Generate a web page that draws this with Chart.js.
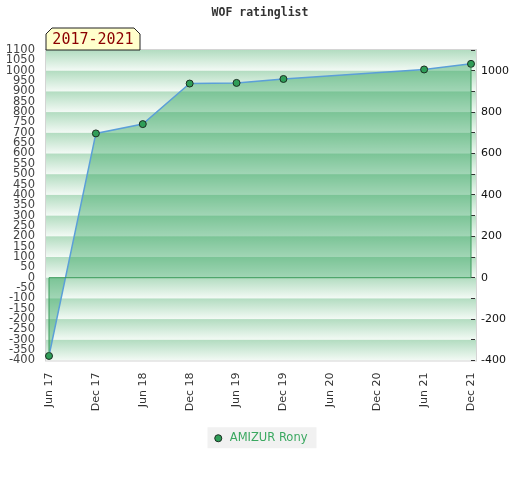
<!DOCTYPE html>
<html>
<head>
<meta charset="utf-8">
<script src="https://cdn.jsdelivr.net/npm/chart.js@4/dist/chart.umd.min.js"></script>
<style>
  html, body { margin: 0; padding: 0; background: #fff; }
  #wrap { width: 520px; height: 480px; position: relative; }
</style>
</head>
<body>
<div id="wrap"><canvas id="line-chart"></canvas></div>
<script>
// data
var periodes = ["Jun 17", "Dec 17", "Jun 18", "Dec 18", "Jun 19", "Dec 19", "Jun 20", "Dec 20", "Jun 21", "Dec 21"];
var rating = [-378, 697, 742, 938, 941, 960, null, null, 1006, 1033];
var joueur = "AMIZUR Rony";
var titre = "WOF ratinglist";
var badge = "2017-2021";
var yMin = -400;
var yMax = 1100;

// striped background + yellow badge
var fondPlugin = {
  id: 'fond',
  beforeDraw: function (chart) {
    var ctx = chart.ctx;
    var a = chart.chartArea;
    var y = chart.scales.y;
    var left = a.left - 3, right = a.right + 5;
    ctx.save();
    for (var v = yMax; v > yMin; v -= 100) {
      var t = y.getPixelForValue(v), b = y.getPixelForValue(v - 100);
      var g = ctx.createLinearGradient(0, t, 0, b);
      g.addColorStop(0, "#b2dcc0");
      g.addColorStop(1, "#f3faf5");
      ctx.fillStyle = g;
      ctx.fillRect(left, t, right - left, b - t);
    }
    ctx.strokeStyle = "#d4d4d4";
    ctx.lineWidth = 1;
    ctx.strokeRect(left - 0.5, a.top - 0.5, right - left + 1, a.bottom - a.top + 1);

    // legend background
    var hb = chart.legend && chart.legend.legendHitBoxes;
    if (hb && hb.length) {
      var h = hb[0];
      ctx.fillStyle = "#f1f1f1";
      ctx.fillRect(h.left - 5, h.top + h.height / 2 - 11, h.width + 14, 21);
    }

    // title
    ctx.fillStyle = "#333";
    ctx.font = "bold 11.5px 'DejaVu Sans Mono'";
    ctx.textAlign = "center";
    ctx.textBaseline = "middle";
    ctx.fillText(titre, 260, 13);

    // badge
    var bx = left, by = a.top - 22, bw = 94, bh = 22, c = 6;
    ctx.beginPath();
    ctx.moveTo(bx, a.top);
    ctx.lineTo(bx, by + c);
    ctx.lineTo(bx + c, by);
    ctx.lineTo(bx + bw - c, by);
    ctx.lineTo(bx + bw, by + c);
    ctx.lineTo(bx + bw, a.top);
    ctx.closePath();
    ctx.fillStyle = "#ffffcc";
    ctx.fill();
    ctx.strokeStyle = "#222";
    ctx.stroke();
    ctx.fillStyle = "#8b0000";
    ctx.font = "15px 'DejaVu Sans Mono'";
    ctx.textAlign = "center";
    ctx.fillText(badge, bx + bw / 2, by + 12);
    ctx.restore();
  },
  afterDatasetsDraw: function (chart) {
    // outline of the filled area
    var ctx = chart.ctx;
    var x = chart.scales.x, y = chart.scales.y;
    var x0 = x.getPixelForValue(0), x1 = x.getPixelForValue(periodes.length - 1);
    var z = y.getPixelForValue(0);
    ctx.save();
    ctx.strokeStyle = "#3a9a5b";
    ctx.lineWidth = 1;
    ctx.beginPath();
    ctx.moveTo(x0, y.getPixelForValue(rating[0]));
    ctx.lineTo(x0, z);
    ctx.lineTo(x1, z);
    ctx.lineTo(x1, y.getPixelForValue(rating[rating.length - 1]));
    ctx.stroke();
    ctx.restore();
  }
};

new Chart(document.getElementById("line-chart"),
{
  type: 'line',
  data:
  {
    labels: periodes,
    datasets:
    [{
      data: rating,
      label: joueur,
      borderColor: "#5b9fd8",
      borderWidth: 1.5,
      backgroundColor: "rgba(40,160,88,0.4)",
      fill: 'origin',
      spanGaps: true,
      tension: 0,
      pointRadius: 3.5,
      pointBackgroundColor: "#2f9e58",
      pointBorderColor: "#1b2e22",
      pointBorderWidth: 1,
      clip: false
    }]
  },
  options:
  {
    responsive: true,
    maintainAspectRatio: false,
    animation: false,
    layout: { padding: { top: 50, left: 0, right: 0, bottom: 26 } },
    scales:
    {
      x:
      {
        offset: false,
        grid: { display: false, drawTicks: false },
        border: { display: false },
        ticks: { autoSkip: false, maxRotation: 90, minRotation: 90, padding: 12, color: "#333", font: { family: "DejaVu Sans", size: 11 } },
        afterFit: function (s) { s.height = 62; }
      },
      y:
      {
        position: 'left',
        min: yMin,
        max: yMax,
        grid: { display: false, drawTicks: false },
        border: { display: false },
        ticks:
        {
          stepSize: 50,
          autoSkip: false,
          padding: 14,
          color: "#444",
          font: { family: "DejaVu Sans", size: 11.5 },
          callback: function (v) { return String(v); }
        },
        afterFit: function (s) { s.width = 49; }
      },
      y2:
      {
        position: 'right',
        min: yMin,
        max: yMax,
        grid: { drawOnChartArea: false, tickLength: 4, color: "#333" },
        border: { display: false },
        ticks:
        {
          stepSize: 100,
          autoSkip: false,
          padding: 6,
          color: "#111",
          font: { family: "DejaVu Sans", size: 11 },
          callback: function (v) { return v % 200 === 0 ? String(v) : ''; }
        },
        afterFit: function (s) { s.width = 49; }
      }
    },
    plugins:
    {
      title: { display: false },
      tooltip: { enabled: false },
      legend:
      {
        position: 'bottom',
        labels:
        {
          usePointStyle: true,
          boxWidth: 14,
          boxHeight: 5,
          padding: 10,
          color: "#3aa860",
          font: { family: "DejaVu Sans", size: 11.5 }
        }
      }
    }
  },
  plugins: [fondPlugin]
});
</script>
</body>
</html>
